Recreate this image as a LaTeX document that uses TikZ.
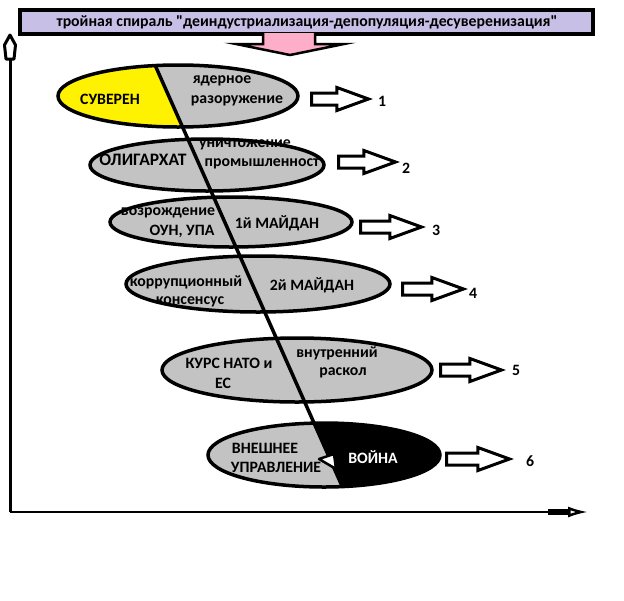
\documentclass[tikz,border=0pt]{standalone}
\usepackage{fontspec}
\newfontfamily\carlito{Carlito}
\usetikzlibrary{arrows.meta,shapes.arrows}
\definecolor{lavender}{HTML}{C8BFE7}
\definecolor{paintpink}{HTML}{FFAEC9}
\definecolor{paintgray}{HTML}{C3C3C3}
\definecolor{paintyellow}{HTML}{FFF200}
\tikzset{
  txt/.style={font=\carlito\fontsize{15.8}{17}\selectfont\bfseries, inner sep=0pt, align=center},
  blockarrow/.style={single arrow, draw, line width=3pt, fill=white, minimum height=57pt,
    single arrow head extend=5.5pt, single arrow tip angle=40, inner sep=4.5pt, anchor=west},
  oval/.style={line width=3.5pt}
}
\begin{document}
\begin{tikzpicture}[x=1pt,y=-1pt]
    \useasboundingbox (0,0) rectangle (624,600);
    % title
    \draw[line width=4pt,fill=lavender] (20,10) rectangle (593,34);
    \node[txt] (title) at (307,22) {тройная спираль "деиндустриализация-депопуляция-десуверенизация"};
    \draw[line width=2.5pt,fill=paintpink] (263,33) -- (263,44) -- (236,44) -- (290,55) -- (344,44) -- (315,44) -- (315,33);
    % axes
    \coordinate (o) at (10,512);
    \coordinate (ybase) at (10,59);
    \coordinate (ytop) at (10,35);
    \coordinate (xend) at (588,512);
    \draw[line width=3pt] (o) -- (ybase);
    \filldraw[fill=white,line width=3pt,line join=round] (ytop) -- (15.5,45) -- (14,59) -- (6,59) -- (4.5,45) -- cycle;
    \draw[line width=2.5pt,-{Latex[open,length=20pt,width=11pt]}] (o) -- (xend);
    \draw[line width=6pt] (548,512) -- (568,512);
    % ovals
    \fill[paintgray] (178,96) ellipse [x radius=120pt,y radius=31pt];
    \fill[paintgray] (207,165) ellipse [x radius=117pt,y radius=26pt];
    \fill[paintgray] (231,222) ellipse [x radius=121pt,y radius=25pt];
    \fill[paintgray] (258,284) ellipse [x radius=132pt,y radius=28pt];
    \fill[paintgray] (297,370) ellipse [x radius=135pt,y radius=32pt];
    \fill[paintgray] (324,455) ellipse [x radius=116pt,y radius=32pt];
    \begin{scope}
    \clip (178,96) ellipse [x radius=120pt,y radius=31pt];
    \fill[paintyellow] (0,0) -- (126,0) -- (393,600) -- (0,600) -- cycle;
    \end{scope}
    \begin{scope}
    \clip (324,455) ellipse [x radius=116pt,y radius=32pt];
    \fill[black] (126,0) -- (624,0) -- (624,600) -- (393,600) -- cycle;
    \end{scope}
    \draw[oval] (178,96) ellipse [x radius=120pt,y radius=31pt];
    \draw[oval] (207,165) ellipse [x radius=117pt,y radius=26pt];
    \draw[oval] (231,222) ellipse [x radius=121pt,y radius=25pt];
    \draw[oval] (258,284) ellipse [x radius=132pt,y radius=28pt];
    \draw[oval] (297,370) ellipse [x radius=135pt,y radius=32pt];
    \draw[oval] (324,455) ellipse [x radius=116pt,y radius=32pt];
    % spiral line
    \coordinate (top) at (155,65);
    \coordinate (bot) at (342,486);
    \draw[line width=3.5pt] (top) -- (bot);
    \filldraw[fill=white,line width=2.5pt,line join=round] (319,459) -- (334,454) -- (336,469) -- cycle;
    % labels
    \node[txt] (suv) at (110,99) {СУВЕРЕН};
    \node[txt] (yad) at (222,81) {ядерное};
    \node[txt] (raz) at (237,101) {разоружение};
    \node[txt,font=\carlito\fontsize{17.5}{18}\selectfont\bfseries] (olig) at (143,160) {ОЛИГАРХАТ};
    \node[txt] (unich) at (245,145) {уничтожение};
    \node[txt] (prom) at (262,164) {промышленност};
    \node[txt] (vozr) at (168,213) {возрождение};
    \node[txt] (oun) at (182,231) {ОУН, УПА};
    \node[txt] (maid1) at (277,223) {1й МАЙДАН};
    \node[txt] (korr) at (186,282) {коррупционный};
    \node[txt] (kons) at (190,302) {консенсус};
    \node[txt] (maid2) at (312,285) {2й МАЙДАН};
    \node[txt] (kurs) at (229,363) {КУРС НАТО и};
    \node[txt] (es) at (223,383) {ЕС};
    \node[txt] (vnutr) at (337,353) {внутренний};
    \node[txt] (rask) at (343,373) {раскол};
    \node[txt] (vnesh) at (265,448) {ВНЕШНЕЕ};
    \node[txt] (upr) at (276,467) {УПРАВЛЕНИЕ};
    \node[txt,text=white] (voyna) at (373,457) {ВОЙНА};
    % arrows and numbers
    \node[blockarrow] (a1) at (310,99) {};
    \node[blockarrow] (a2) at (337,162) {};
    \node[blockarrow,minimum height=61pt] (a3) at (359,227) {};
    \node[blockarrow,minimum height=61pt] (a4) at (401,289) {};
    \node[blockarrow,minimum height=61pt] (a5) at (439,370) {};
    \node[blockarrow,minimum height=63pt] (a6) at (445,459) {};
    \node[txt] (n1) at (382,101) {1};
    \node[txt] (n2) at (406,168) {2};
    \node[txt] (n3) at (436,230) {3};
    \node[txt] (n4) at (473,293) {4};
    \node[txt] (n5) at (516,370) {5};
    \node[txt] (n6) at (530,461) {6};
\end{tikzpicture}
\end{document}
